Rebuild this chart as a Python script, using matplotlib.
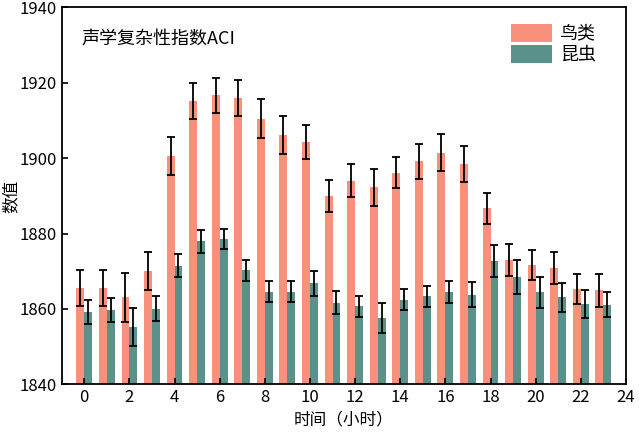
import matplotlib
matplotlib.use('Agg')
import matplotlib.pyplot as plt
import numpy as np

plt.rcParams['font.family'] = ['Noto Sans CJK SC', 'DejaVu Sans']

hours = list(range(24))
birds = [1865.5, 1865.5, 1863.1, 1870.1, 1900.6, 1915.1, 1916.7, 1916.0,
         1910.5, 1906.2, 1904.2, 1889.9, 1894.0, 1892.3, 1896.2, 1899.2,
         1901.5, 1898.4, 1886.7, 1872.9, 1871.6, 1870.9, 1865.3, 1865.0]
birds_err = [4.7, 4.8, 6.5, 5.0, 5.0, 4.8, 4.6, 4.8, 5.2, 5.1, 4.5, 4.3,
             4.4, 4.9, 4.0, 4.6, 5.0, 4.8, 4.2, 4.2, 4.0, 4.3, 4.1, 4.4]
insects = [1859.3, 1859.7, 1855.2, 1860.0, 1871.5, 1877.9, 1878.5, 1870.2,
           1864.6, 1864.6, 1866.8, 1861.7, 1860.7, 1857.6, 1862.5, 1863.4,
           1864.5, 1863.8, 1872.7, 1868.5, 1864.4, 1863.1, 1861.2, 1861.1]
insects_err = [3.2, 3.3, 5.1, 3.3, 3.1, 3.0, 2.7, 2.8, 2.7, 2.8, 3.3, 3.0,
               2.8, 4.1, 2.7, 2.8, 3.0, 3.3, 4.2, 4.5, 4.1, 3.9, 3.7, 3.3]

fig = plt.figure(figsize=(6.4, 4.41), dpi=100)
ax = fig.add_axes([0.0964, 0.1286, 0.8816, 0.8544])

x = np.array(hours)
w = 0.35
ekw = dict(ecolor='black', elinewidth=1.3, capsize=3, capthick=1.3)
ax.bar(x - w / 2, birds, w, yerr=birds_err, color='#F8907B', label='鸟类', error_kw=ekw)
ax.bar(x + w / 2, insects, w, yerr=insects_err, color='#5A918A', label='昆虫', error_kw=ekw)

ax.set_xlim(-1, 24)
ax.set_ylim(1840, 1940)
ax.set_xticks(range(0, 25, 2))
ax.set_yticks(range(1840, 1941, 20))
ax.tick_params(direction='in', length=4, width=1.2, labelsize=12, colors='black')
for s in ax.spines.values():
    s.set_linewidth(1.3)

ax.set_xlabel('时间（小时）', fontsize=12, labelpad=4)
ax.set_ylabel('数值', fontsize=12)
ax.yaxis.set_label_coords(-0.074, 0.5)
ax.text(0.035, 0.94, '声学复杂性指数ACI', transform=ax.transAxes, fontsize=13,
        va='top', ha='left')
ax.legend(loc='upper right', frameon=False, fontsize=13, handlelength=2.3,
          handleheight=1.15, labelspacing=0.1, handletextpad=0.4,
          bbox_to_anchor=(0.975, 1.0))

fig.savefig('out.png', dpi=100)
